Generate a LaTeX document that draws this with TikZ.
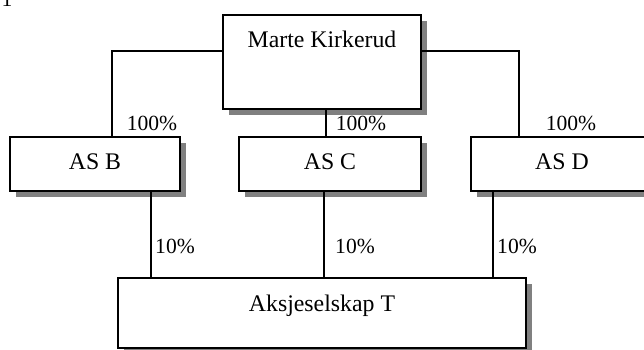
\documentclass[tikz,border=0pt]{standalone}
\usepackage{fontspec}
\setmainfont{Liberation Serif}
\usetikzlibrary{shadows}
\begin{document}
\begin{tikzpicture}[x=1pt,y=-1pt,
  box/.style={draw, line width=1.8pt, fill=white, rectangle, inner sep=0pt, outer sep=0pt, anchor=north west,
    drop shadow={shadow xshift=6pt, shadow yshift=-6pt, fill=black!50, opacity=1}},
  boxtext/.style={font=\fontsize{23.8}{28}\selectfont, anchor=base, inner sep=0pt},
  pct/.style={font=\fontsize{21.6}{26}\selectfont, anchor=base, inner sep=0pt},
  conn/.style={line width=1.3pt}]
\useasboundingbox (0,0) rectangle (644,349);
\node[box, minimum width=198pt, minimum height=94pt] (mk) at (223,15) {};
\node[box, minimum width=170pt, minimum height=54pt] (asb) at (10,137) {};
\node[box, minimum width=182pt, minimum height=54pt] (asc) at (239,137) {};
\node[box, minimum width=182pt, minimum height=54pt] (asd) at (471,137) {};
\node[box, minimum width=408pt, minimum height=70pt] (akt) at (118,278) {};
\node[boxtext] (tmk) at (322,47) {Marte Kirkerud};
\node[boxtext] (tasb) at (95,169) {AS B};
\node[boxtext] (tasc) at (330,169) {AS C};
\node[boxtext] (tasd) at (562,169) {AS D};
\node[boxtext] (takt) at (322,311) {Aksjeselskap T};
\coordinate (jl) at (112,51);
\coordinate (jr) at (519,51);
\coordinate (jc) at (326,0);
\coordinate (lb) at (151,0);
\coordinate (lc) at (324,0);
\coordinate (ld) at (493,0);
\draw[conn] (mk.west |- jl) -| (asb.north -| jl);
\draw[conn] (mk.east |- jr) -| (asd.north -| jr);
\draw[conn] (mk.south -| jc) -- (asc.north -| jc);
\draw[conn] (asb.south -| lb) -- (akt.north -| lb);
\draw[conn] (asc.south -| lc) -- (akt.north -| lc);
\draw[conn] (asd.south -| ld) -- (akt.north -| ld);
\node[pct] (p1) at (152,130) {100\%};
\node[pct] (p2) at (361,130) {100\%};
\node[pct] (p3) at (571,130) {100\%};
\node[pct] (q1) at (175,253) {10\%};
\node[pct] (q2) at (355,253) {10\%};
\node[pct] (q3) at (517,253) {10\%};
\node[pct] (one) at (7,6) {1};
\end{tikzpicture}
\end{document}
